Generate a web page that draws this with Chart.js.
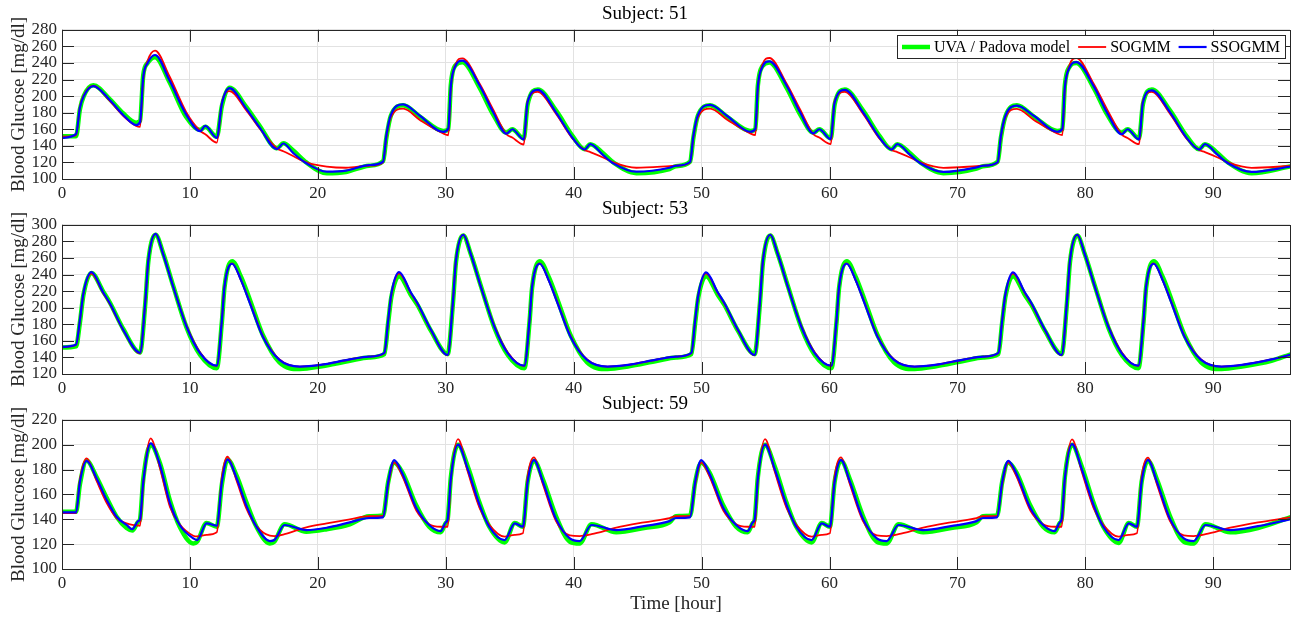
<!DOCTYPE html>
<html>
<head>
<meta charset="utf-8">
<title>Blood glucose: UVA / Padova vs SOGMM vs SSOGMM</title>
<script src="https://cdn.jsdelivr.net/npm/chart.js@4.4.1/dist/chart.umd.min.js"></script>
<style>
  html, body { margin: 0; padding: 0; background: #fff; }
  #wrap { position: relative; width: 1303px; height: 619px; }
  canvas { position: absolute; left: 0; }
</style>
</head>
<body>
<div id="wrap">
  <canvas id="c51" width="1303" height="200" style="top:0px"></canvas>
  <canvas id="c53" width="1303" height="200" style="top:195px"></canvas>
  <canvas id="c59" width="1303" height="229" style="top:390px"></canvas>
</div>
<script>
// ---- Subject 51 ----
const hours51 = [
  0, 1.1, 1.4, 1.7, 2.45, 3.75, 4.8, 5.8, 6.1, 6.35, 6.7, 7.27, 8.4, 9.7, 10.8, 11.2, 12.1, 12.5, 13.1, 14.4, 15.5, 16.8, 17.3, 18.1, 19.1, 20.7, 22.2,
  24, 25.1, 25.36, 25.7, 26.67, 28.0, 29.8, 30.2, 30.4, 30.75, 31.3, 32.65, 33.7, 34.74, 35.2, 36.1, 36.4, 37.2, 38.6, 39.95, 40.85, 41.3, 42.3, 43.1, 44.9, 47.5,
  48, 49.1, 49.36, 49.7, 50.67, 52.0, 53.8, 54.2, 54.4, 54.75, 55.3, 56.65, 57.7, 58.74, 59.2, 60.1, 60.4, 61.2, 62.6, 63.95, 64.85, 65.3, 66.3, 67.1, 68.9, 71.5,
  72, 73.15, 73.4, 73.75, 74.65, 76.0, 77.8, 78.2, 78.4, 78.75, 79.3, 80.65, 81.7, 82.85, 83.3, 84.2, 84.5, 85.2, 86.6, 87.95, 88.9, 89.35, 90.35, 91.15, 93.0, 96
];
const uva51 = [
  151.5, 151.5, 184, 200, 213, 196, 179, 168, 170, 225, 240, 247, 217, 175, 159, 163, 151, 188, 210, 187, 163, 137, 143, 134, 120, 107, 108.5,
  116, 121.5, 150, 176, 189, 175, 158, 160, 214, 237, 241, 210, 178, 156, 160, 149, 190, 208, 183, 151, 136, 142, 131, 120, 107, 112,
  115.5, 121, 150, 176, 189, 175, 158, 160, 213, 236, 240.5, 210, 178, 156, 160, 149, 190, 208, 183, 151, 136, 142, 131, 120, 107, 112.5,
  115.5, 121, 150, 175.5, 189, 175, 158, 160, 213, 235, 240, 210, 178, 156, 160, 149, 190, 208, 183, 151, 136, 142, 131, 120, 107, 115
];
const sogmm51 = [
  151, 152.5, 187, 201, 212.5, 194, 176, 164, 162.8, 220, 243, 254.8, 224, 181, 158, 154, 144, 192, 206, 183, 160, 137, 133.5, 127.5, 120, 115, 113.6,
  116, 120, 150, 174, 184.8, 171, 155, 152.8, 210, 238, 245.6, 215, 184, 154, 150, 141.6, 194, 205, 179, 148, 135, 132.5, 126, 120, 113.6, 115.5,
  116, 120, 150, 174, 185, 171.5, 155, 153, 209, 238, 246, 215, 184, 154, 150, 142, 194, 205, 179, 148, 135, 132.5, 126, 120, 113.5, 115.5,
  116, 120, 150, 174, 184.5, 171, 155, 153, 209, 237, 246, 215, 184, 153.5, 149.5, 142, 194, 205, 179, 148, 135, 132.5, 126, 120, 113.5, 115.7
];
const ssogmm51 = [
  149.6, 154.4, 186, 200, 212, 195, 177, 165, 168.8, 223, 240, 249.6, 219, 178, 157.6, 164, 149.6, 190.8, 209.6, 185, 161, 136, 142.8, 131, 119, 108.8, 110,
  116.8, 120.8, 152.8, 176.8, 190, 176, 156.8, 160.8, 212.8, 236, 242.8, 212.8, 180.8, 154.8, 160, 147.6, 192.8, 207.6, 180.8, 148.8, 135.6, 142, 128.8, 118.8, 108.8, 113.6,
  116, 120.5, 152, 176.5, 189.5, 176, 157, 160.5, 212, 235, 242, 212.5, 180.5, 155, 160, 148, 192, 207.5, 181, 149, 135.5, 142, 129, 119, 108.5, 114,
  116, 120.5, 152, 176, 188.5, 176, 157, 160.5, 211, 234, 241, 212, 180, 154, 160, 147.5, 192, 207, 181, 149, 135.5, 142, 129, 119, 108.5, 114.8
];

// ---- Subject 53 ----
const hours53 = [
  0, 1.1, 1.4, 1.67, 2.3, 3.2, 3.75, 4.8, 6.1, 6.5, 6.75, 7.32, 7.9, 8.7, 9.74, 10.8, 12.1, 12.5, 12.7, 13.3, 14.0, 14.7, 15.7, 17.0, 18.6, 20.2, 22.5,
  24, 25.2, 25.5, 25.75, 26.35, 27.25, 27.8, 28.85, 30.15, 30.55, 30.8, 31.37, 31.95, 32.75, 33.8, 34.85, 36.15, 36.55, 36.75, 37.35, 38.05, 38.75, 39.75, 41.05, 42.65, 44.25, 46.55,
  48, 49.2, 49.5, 49.75, 50.35, 51.25, 51.8, 52.85, 54.15, 54.55, 54.8, 55.37, 55.95, 56.75, 57.8, 58.85, 60.15, 60.55, 60.75, 61.35, 62.05, 62.75, 63.75, 65.05, 66.65, 68.25, 70.55,
  72, 73.2, 73.5, 73.75, 74.35, 75.25, 75.8, 76.85, 78.15, 78.55, 78.8, 79.37, 79.95, 80.75, 81.8, 82.85, 84.15, 84.55, 84.75, 85.35, 86.05, 86.75, 87.75, 89.05, 90.65, 92.25, 94.55, 96
];
const uva53 = [
  152, 153.5, 182, 215, 242, 220, 206, 174, 146, 203, 256, 288, 266, 226, 176, 143, 127, 183, 224, 256, 237, 209, 167, 134, 126, 129, 136,
  140, 144, 182, 213, 238, 216, 203, 172, 144, 203, 255, 287, 265, 226, 176, 143, 127, 183, 224, 256, 237, 209, 167, 134, 126, 129, 136,
  140, 144, 182, 213, 238, 216, 203, 172, 144, 203, 255, 287, 265, 226, 176, 143, 127, 183, 224, 256, 237, 209, 167, 134, 126, 129, 136,
  140, 144, 182, 213, 238, 216, 203, 172, 144, 203, 255, 287, 265, 226, 176, 143, 127, 183, 224, 256, 237, 209, 167, 134, 126, 129, 136, 143.5
];
const sogmm53 = [
  152.5, 155, 184, 216, 241, 218, 204, 172.5, 145, 205, 257, 289, 265, 225, 178, 146, 129.5, 185, 225, 253.5, 233, 206, 166, 137.5, 129, 131, 137.5,
  141, 145, 184, 215, 241, 218, 204, 172.5, 142.5, 205, 257, 288, 265, 225, 178, 146, 129.5, 185, 225, 253.5, 233, 206, 166, 137.5, 129, 131, 137.5,
  141, 145, 184, 215, 241, 218, 204, 172.5, 142.5, 205, 257, 288, 265, 225, 178, 146, 129.5, 185, 225, 253.5, 233, 206, 166, 137.5, 129, 131, 137.5,
  141, 145, 184, 215, 241, 218, 204, 172.5, 142.5, 205, 257, 288, 265, 225, 178, 146, 129.5, 185, 225, 253.5, 233, 206, 166, 137.5, 129, 131, 137.5, 143
];
const ssogmm53 = [
  152.8, 155.6, 185, 217, 243, 219, 205, 173, 145.6, 205, 257, 289, 265, 225, 177, 145, 130, 185, 225, 253, 233, 205, 165, 137, 129, 131, 137.6,
  141, 145.5, 185, 217, 243, 219, 205, 173, 143, 205, 257, 288, 265, 225, 177, 145, 130, 185, 225, 253, 233, 205, 165, 137, 129, 131, 137.6,
  141, 145.5, 185, 216, 242.5, 219, 205, 173, 143, 205, 257, 288, 265, 225, 177, 145, 130, 185, 225, 253, 233, 205, 165, 137, 129, 131, 137.6,
  141, 145.5, 185, 216, 242.5, 219, 205, 173, 143, 205, 257, 288, 265, 225, 177, 145, 130, 185, 225, 253, 233, 205, 165, 137, 129, 131, 137.6, 143
];

// ---- Subject 59 ----
const hours59 = [
  0, 1.1, 1.4, 1.93, 2.7, 3.5, 4.27, 5.05, 5.5, 5.96, 6.1, 6.35, 6.93, 7.66, 8.44, 9.2, 10.26, 10.57, 11.3, 12.1, 12.5, 12.94, 13.65, 14.4, 15.2, 16.25, 16.6, 17.4, 19.1, 20.7, 22.5,
  24, 25.1, 25.5, 25.97, 26.6, 27.7, 28.7, 29.6, 30.0, 30.15, 30.4, 30.96, 31.7, 32.65, 33.4, 34.6, 35.4, 36.03, 36.4, 36.9, 37.6, 38.6, 39.7, 40.47, 41.4, 43.33, 45.5, 47.5,
  48, 49.1, 49.5, 49.97, 50.6, 51.7, 52.7, 53.6, 54.0, 54.15, 54.4, 54.96, 55.7, 56.65, 57.4, 58.6, 59.4, 60.03, 60.4, 60.9, 61.6, 62.6, 63.7, 64.47, 65.4, 67.33, 69.5, 71.5,
  72, 73.1, 73.5, 73.97, 74.6, 75.7, 76.7, 77.6, 78.0, 78.15, 78.4, 78.96, 79.7, 80.65, 81.4, 82.6, 83.4, 84.03, 84.4, 84.9, 85.6, 86.6, 87.7, 88.47, 89.4, 91.33, 93.5, 96
];
const uva59 = [
  146, 146, 168, 187, 174, 157, 142, 133, 131, 138, 140, 172, 200, 185, 155, 134, 120.6, 122, 137, 134, 168, 188, 175, 154, 134, 120.6, 122, 136, 130, 132, 136,
  142.5, 143, 170, 185.5, 178, 151, 134, 129.5, 137, 140, 174, 200, 183, 153, 134, 121.4, 137, 134, 170, 187, 172, 143, 122, 120.6, 136, 129.5, 133, 137.5,
  142.5, 143, 170, 185.5, 178, 151, 134, 129.5, 137, 140, 174, 200, 183, 153, 134, 121.4, 137, 134, 170, 187, 172, 143, 122, 120.6, 136, 129.5, 133, 137.5,
  142.5, 143, 170, 185.5, 178, 151, 134, 129.5, 137, 140, 174, 200, 183, 153, 134, 121, 137, 134, 170, 187, 172, 143, 122, 120.6, 136, 129.5, 133, 141.5
];
const sogmm59 = [
  145, 145, 172, 189, 171, 153, 141, 136.7, 135.5, 135, 134.8, 168, 205, 181, 150, 136, 126.8, 126.2, 127.5, 129.5, 174, 190.3, 171, 149, 134.5, 126.8, 126.5, 128, 133.5, 136.7, 140,
  142.5, 142.8, 168, 185.5, 175, 147, 136, 134, 134, 134, 172, 204.5, 179, 149, 135.5, 126, 127.5, 128.7, 174, 189.7, 168, 139, 127, 126.5, 128, 133.2, 137.5, 141,
  142.5, 142.8, 168, 185.5, 175, 147, 136, 134, 134, 134, 172, 204.5, 179, 149, 135.5, 126, 127.5, 128.7, 174, 189.7, 168, 139, 127, 126.5, 128, 133.2, 137.5, 141,
  142.5, 142.8, 168, 185.5, 175, 147, 136, 134, 134, 134, 172, 204.3, 179, 149, 135.5, 126, 127.5, 128.7, 174, 189.5, 168, 139, 127, 126.5, 128, 133.2, 137.5, 141.5
];
const ssogmm59 = [
  145.5, 145.5, 170, 187, 173, 155.5, 142, 135.4, 132, 138.6, 140, 170, 201, 183.6, 153, 135.4, 124.6, 123.3, 136.7, 134.8, 170, 188, 173, 151.4, 134, 122.5, 123.3, 135.4, 131.3, 133.2, 137.5,
  141, 141.5, 170, 187.6, 177, 149, 135.4, 130.5, 137.5, 140, 173, 200, 181, 151.4, 134, 123.3, 136.7, 134, 170, 187.6, 170, 140.7, 124.6, 122.5, 135.4, 131.3, 134.5, 138.5,
  141, 141.5, 170, 187.6, 177, 149, 135.4, 130.5, 137.5, 140, 173, 200, 181, 151.4, 134, 123.3, 136.7, 134, 170, 187.6, 170, 140.7, 124.6, 122.5, 135.4, 131.3, 134.5, 138.5,
  141, 141.5, 170, 187, 177, 149, 135.4, 130.5, 137.5, 140, 173, 200.5, 181, 151.4, 134, 123.3, 136.7, 134, 170, 187.6, 170, 140.7, 124.6, 122.5, 135.4, 131.3, 134.5, 139.9
];

Chart.defaults.font.family = '"Liberation Serif", "Times New Roman", serif';

// MATLAB-like box with inward ticks on all four sides
const matlabAxes = {
  id: 'matlabAxes',
  afterDatasetsDraw(chart) {
    const { ctx, chartArea: a, scales: { x, y } } = chart;
    const len = 12;
    ctx.save();
    ctx.strokeStyle = '#262626';
    ctx.lineWidth = 1;
    ctx.beginPath();
    x.ticks.forEach(t => {
      const px = Math.round(x.getPixelForValue(t.value)) + 0.5;
      ctx.moveTo(px, a.bottom); ctx.lineTo(px, a.bottom - len);
      ctx.moveTo(px, a.top); ctx.lineTo(px, a.top + len);
    });
    y.ticks.forEach(t => {
      const py = Math.round(y.getPixelForValue(t.value)) + 0.5;
      ctx.moveTo(a.left, py); ctx.lineTo(a.left + len, py);
      ctx.moveTo(a.right, py); ctx.lineTo(a.right - len, py);
    });
    ctx.stroke();
    ctx.strokeRect(Math.round(a.left) + 0.5, Math.round(a.top) + 0.5, Math.round(a.width), Math.round(a.height));
    ctx.restore();
  }
};

// legend box inside the top-right corner of the plot
const legendBox = {
  id: 'legendBox',
  afterDraw(chart, args, opts) {
    if (!opts.show) return;
    const { ctx, chartArea: a } = chart;
    ctx.save();
    ctx.font = '16px "Liberation Serif"';
    const items = chart.data.datasets.map(ds => ({
      label: ds.label, color: ds.borderColor, lw: ds.borderWidth, w: ctx.measureText(ds.label).width
    }));
    const sample = 28, gap = 4, itemGap = 8, padX = 5, h = 23;
    const total = items.reduce((s, it) => s + sample + gap + it.w, 0) + itemGap * (items.length - 1) + padX * 2;
    const right = Math.round(a.right) - 5, top = Math.round(a.top) + 5;
    const left = right - Math.round(total);
    ctx.fillStyle = '#fff';
    ctx.fillRect(left, top, right - left, h);
    ctx.strokeStyle = '#262626';
    ctx.lineWidth = 1;
    ctx.strokeRect(left + 0.5, top + 0.5, right - left, h);
    let x = left + padX;
    const cy = top + h / 2 + 0.5;
    items.forEach(it => {
      ctx.strokeStyle = it.color;
      ctx.lineWidth = it.lw;
      ctx.beginPath(); ctx.moveTo(x, cy); ctx.lineTo(x + sample, cy); ctx.stroke();
      x += sample + gap;
      ctx.fillStyle = '#000';
      ctx.textBaseline = 'middle';
      ctx.fillText(it.label, x, cy + 1);
      x += it.w + itemGap;
    });
    ctx.restore();
  }
};

const toPoints = (hours, values) => hours.map((h, i) => ({ x: h, y: values[i] }));

function drawPanel(id, subject, hours, uva, sogmm, ssogmm, yMin, yMax, isBottom, withLegend) {
  const ctx = document.getElementById(id).getContext('2d');
  return new Chart(ctx, {
    type: 'line',
    data: {
      datasets: [
        { label: 'UVA / Padova model', data: toPoints(hours, uva), borderColor: '#00ff00', borderWidth: 4.5, order: 3 },
        { label: 'SOGMM', data: toPoints(hours, sogmm), borderColor: '#ff0000', borderWidth: 1.8, order: 2 },
        { label: 'SSOGMM', data: toPoints(hours, ssogmm), borderColor: '#0000ff', borderWidth: 2.2, order: 1 },
      ],
    },
    options: {
      responsive: false,
      animation: false,
      devicePixelRatio: 1,
      layout: { padding: { left: 0, right: 13, top: 0, bottom: 0 } },
      elements: {
        point: { radius: 0 },
        line: { cubicInterpolationMode: 'monotone', borderJoinStyle: 'round', borderCapStyle: 'round' },
      },
      plugins: {
        legend: { display: false },
        tooltip: { enabled: false },
        title: {
          display: true,
          text: 'Subject: ' + subject,
          color: '#000',
          font: { size: 19, weight: 'normal', lineHeight: 1.2 },
          padding: { top: 3, bottom: 4 },
        },
        legendBox: { show: withLegend },
      },
      scales: {
        x: {
          type: 'linear',
          min: 0,
          max: 96,
          ticks: { stepSize: 10, includeBounds: false, autoSkip: false, color: '#262626', font: { size: 17 }, padding: 4, maxRotation: 0 },
          grid: { color: '#e2e2e2', drawTicks: false },
          border: { display: false },
          title: {
            display: isBottom,
            text: 'Time [hour]',
            color: '#262626',
            font: { size: 19 },
            padding: { top: 0, bottom: 4 },
          },
          afterFit: s => { s.height = isBottom ? 50 : 21; },
        },
        y: {
          min: yMin,
          max: yMax,
          ticks: { stepSize: 20, autoSkip: false, color: '#262626', font: { size: 17 }, padding: 5 },
          grid: { color: '#e2e2e2', drawTicks: false },
          border: { display: false },
          title: {
            display: true,
            text: 'Blood Glucose [mg/dl]',
            color: '#262626',
            font: { size: 19 },
            padding: { top: 8, bottom: 0 },
          },
          afterFit: s => { s.width = 62; },
        },
      },
    },
    plugins: [matlabAxes, legendBox],
  });
}

drawPanel('c51', 51, hours51, uva51, sogmm51, ssogmm51, 100, 280, false, true);
drawPanel('c53', 53, hours53, uva53, sogmm53, ssogmm53, 120, 300, false, false);
drawPanel('c59', 59, hours59, uva59, sogmm59, ssogmm59, 100, 220, true, false);
</script>
</body>
</html>
